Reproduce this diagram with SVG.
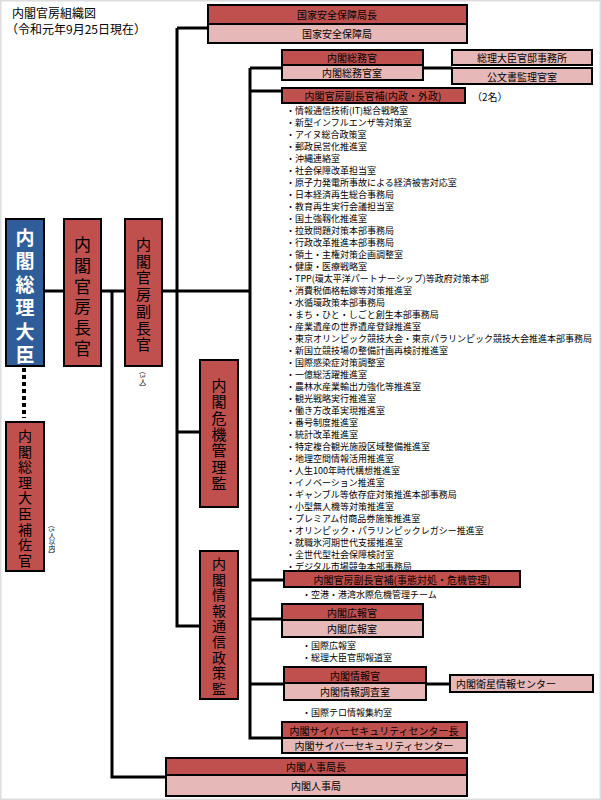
<svg xmlns="http://www.w3.org/2000/svg" width="601" height="800" viewBox="0 0 601 800">
<style>
text{font-family:"Noto Sans CJK JP","Liberation Sans",sans-serif;fill:#000}
.d{fill:#c0504d;stroke:#000;stroke-width:2}
.l{fill:#e6b9b8;stroke:#000;stroke-width:2}
.b{fill:#2e5d99;stroke:#000;stroke-width:2}
.c{stroke:#000;stroke-width:3;fill:none}
.t{font-size:10px;text-anchor:middle;dominant-baseline:central}
.li{font-size:9px;dominant-baseline:central}
.v{font-size:15px;text-anchor:middle;dominant-baseline:central}
.s{font-size:6.5px;writing-mode:tb}
</style>
<rect x="0" y="0" width="601" height="800" fill="#fff" stroke="#ddd" stroke-width="3"/>
<text x="12" y="18" font-size="12">内閣官房組織図</text>
<text x="6" y="34" font-size="12">（令和元年9月25日現在）</text>
<g id="connectors">
<path class="c" d="M44 291H64M101 291H250M112 291V777H166M177 28H208M177 28V626H200M177 432H200M250 68V738H282M250 68H282M423 68H452M250 91H282M250 580H284M250 619H282M250 684H284M426 684H450M250 738H282"/>
<path d="M24 368V418" stroke="#000" stroke-width="4" stroke-dasharray="4,3"/>
</g>
<g id="pm"><rect class="b" x="6" y="219" width="38" height="147"/>
<text class="v" x="25" y="236" style="fill:#fff;font-weight:bold;font-size:19px"><tspan x="25">内</tspan><tspan x="25" dy="23.4">閣</tspan><tspan x="25" dy="23.4">総</tspan><tspan x="25" dy="23.4">理</tspan><tspan x="25" dy="23.4">大</tspan><tspan x="25" dy="23.4">臣</tspan></text></g>
<g id="chief"><rect class="d" x="64" y="219" width="37" height="147"/>
<text class="v" x="82.5" y="243" style="font-size:17px"><tspan x="82.5">内</tspan><tspan x="82.5" dy="20.8">閣</tspan><tspan x="82.5" dy="20.8">官</tspan><tspan x="82.5" dy="20.8">房</tspan><tspan x="82.5" dy="20.8">長</tspan><tspan x="82.5" dy="20.8">官</tspan></text></g>
<g id="deputy"><rect class="d" x="125" y="219" width="37" height="147"/>
<text class="v" x="143.5" y="243"><tspan x="143.5">内</tspan><tspan x="143.5" dy="16.7">閣</tspan><tspan x="143.5" dy="16.7">官</tspan><tspan x="143.5" dy="16.7">房</tspan><tspan x="143.5" dy="16.7">副</tspan><tspan x="143.5" dy="16.7">長</tspan><tspan x="143.5" dy="16.7">官</tspan></text>
<text class="s" x="143" y="372">(3人)</text></g>
<g id="aide"><rect class="d" x="6" y="422" width="38" height="149"/>
<text class="v" x="25" y="435" style="font-size:14px"><tspan x="25">内</tspan><tspan x="25" dy="15.6">閣</tspan><tspan x="25" dy="15.6">総</tspan><tspan x="25" dy="15.6">理</tspan><tspan x="25" dy="15.6">大</tspan><tspan x="25" dy="15.6">臣</tspan><tspan x="25" dy="15.6">補</tspan><tspan x="25" dy="15.6">佐</tspan><tspan x="25" dy="15.6">官</tspan></text>
<text class="s" x="52" y="526">(5人以内)</text></g>
<g id="crisis"><rect class="d" x="200" y="360" width="38" height="147"/>
<text class="v" x="219" y="384"><tspan x="219">内</tspan><tspan x="219" dy="16.3">閣</tspan><tspan x="219" dy="16.3">危</tspan><tspan x="219" dy="16.3">機</tspan><tspan x="219" dy="16.3">管</tspan><tspan x="219" dy="16.3">理</tspan><tspan x="219" dy="16.3">監</tspan></text></g>
<g id="ict"><rect class="d" x="200" y="551" width="38" height="148"/>
<text class="v" x="219" y="563" style="font-size:14px"><tspan x="219">内</tspan><tspan x="219" dy="15.6">閣</tspan><tspan x="219" dy="15.6">情</tspan><tspan x="219" dy="15.6">報</tspan><tspan x="219" dy="15.6">通</tspan><tspan x="219" dy="15.6">信</tspan><tspan x="219" dy="15.6">政</tspan><tspan x="219" dy="15.6">策</tspan><tspan x="219" dy="15.6">監</tspan></text></g>
<g id="nss"><rect class="d" x="208" y="5" width="259" height="19"/><rect class="l" x="208" y="24" width="259" height="19"/>
<text class="t" x="337" y="14.5">国家安全保障局長</text><text class="t" x="337" y="33.5">国家安全保障局</text></g>
<g id="somu"><rect class="d" x="282" y="50" width="141" height="15"/><rect class="l" x="282" y="65" width="141" height="15"/>
<text class="t" x="352" y="57.5">内閣総務官</text><text class="t" x="352" y="72.5">内閣総務官室</text></g>
<g id="kantei"><rect class="l" x="452" y="50" width="140" height="15"/><text class="t" x="522" y="57.5">総理大臣官邸事務所</text></g>
<g id="kobunsho"><rect class="l" x="452" y="68" width="140" height="16"/><text class="t" x="522" y="76">公文書監理官室</text></g>
<g id="naisei"><rect class="d" x="282" y="88" width="183" height="15"/><text class="t" x="373" y="95.5">内閣官房副長官補(内政・外政)</text>
<text class="li" x="472" y="96" style="font-size:10px">（2名）</text>
<text class="li" x="286" y="110"><tspan x="286">・情報通信技術(IT)総合戦略室</tspan><tspan x="286" dy="12">・新型インフルエンザ等対策室</tspan><tspan x="286" dy="12">・アイヌ総合政策室</tspan><tspan x="286" dy="12">・郵政民営化推進室</tspan><tspan x="286" dy="12">・沖縄連絡室</tspan><tspan x="286" dy="12">・社会保障改革担当室</tspan><tspan x="286" dy="12">・原子力発電所事故による経済被害対応室</tspan><tspan x="286" dy="12">・日本経済再生総合事務局</tspan><tspan x="286" dy="12">・教育再生実行会議担当室</tspan><tspan x="286" dy="12">・国土強靱化推進室</tspan><tspan x="286" dy="12">・拉致問題対策本部事務局</tspan><tspan x="286" dy="12">・行政改革推進本部事務局</tspan><tspan x="286" dy="12">・領土・主権対策企画調整室</tspan><tspan x="286" dy="12">・健康・医療戦略室</tspan><tspan x="286" dy="12">・TPP(環太平洋パートナーシップ)等政府対策本部</tspan><tspan x="286" dy="12">・消費税価格転嫁等対策推進室</tspan><tspan x="286" dy="12">・水循環政策本部事務局</tspan><tspan x="286" dy="12">・まち・ひと・しごと創生本部事務局</tspan><tspan x="286" dy="12">・産業遺産の世界遺産登録推進室</tspan><tspan x="286" dy="12">・東京オリンピック競技大会・東京パラリンピック競技大会推進本部事務局</tspan><tspan x="286" dy="12">・新国立競技場の整備計画再検討推進室</tspan><tspan x="286" dy="12">・国際感染症対策調整室</tspan><tspan x="286" dy="12">・一億総活躍推進室</tspan><tspan x="286" dy="12">・農林水産業輸出力強化等推進室</tspan><tspan x="286" dy="12">・観光戦略実行推進室</tspan><tspan x="286" dy="12">・働き方改革実現推進室</tspan><tspan x="286" dy="12">・番号制度推進室</tspan><tspan x="286" dy="12">・統計改革推進室</tspan><tspan x="286" dy="12">・特定複合観光施設区域整備推進室</tspan><tspan x="286" dy="12">・地理空間情報活用推進室</tspan><tspan x="286" dy="12">・人生100年時代構想推進室</tspan><tspan x="286" dy="12">・イノベーション推進室</tspan><tspan x="286" dy="12">・ギャンブル等依存症対策推進本部事務局</tspan><tspan x="286" dy="12">・小型無人機等対策推進室</tspan><tspan x="286" dy="12">・プレミアム付商品券施策推進室</tspan><tspan x="286" dy="12">・オリンピック・パラリンピックレガシー推進室</tspan><tspan x="286" dy="12">・就職氷河期世代支援推進室</tspan><tspan x="286" dy="12">・全世代型社会保障検討室</tspan><tspan x="286" dy="12">・デジタル市場競争本部事務局</tspan></text></g>
<g id="jitai"><rect class="d" x="284" y="571" width="236" height="16"/><text class="t" x="402" y="579">内閣官房副長官補(事態対処・危機管理)</text>
<text class="li" x="302" y="594">・空港・港湾水際危機管理チーム</text></g>
<g id="koho"><rect class="d" x="282" y="604" width="141" height="16"/><rect class="l" x="282" y="620" width="141" height="17"/>
<text class="t" x="352" y="612">内閣広報官</text><text class="t" x="352" y="628.5">内閣広報室</text>
<text class="li" x="302" y="645"><tspan x="302">・国際広報室</tspan><tspan x="302" dy="12">・総理大臣官邸報道室</tspan></text></g>
<g id="joho"><rect class="d" x="284" y="667" width="142" height="16"/><rect class="l" x="284" y="683" width="142" height="17"/>
<text class="t" x="355" y="675">内閣情報官</text><text class="t" x="355" y="691.5">内閣情報調査室</text>
<text class="li" x="302" y="712">・国際テロ情報集約室</text></g>
<g id="eisei"><rect class="l" x="450" y="675" width="143" height="17"/><text class="t" x="506" y="683.5">内閣衛星情報センター</text></g>
<g id="cyber"><rect class="d" x="282" y="722" width="185" height="16"/><rect class="l" x="282" y="738" width="185" height="15"/>
<text class="t" x="374" y="730">内閣サイバーセキュリティセンター長</text><text class="t" x="374" y="745.5">内閣サイバーセキュリティセンター</text></g>
<g id="jinji"><rect class="d" x="166" y="758" width="301" height="17"/><rect class="l" x="166" y="775" width="301" height="21"/>
<text class="t" x="316" y="766.5">内閣人事局長</text><text class="t" x="316" y="785.5">内閣人事局</text></g>
</svg>
